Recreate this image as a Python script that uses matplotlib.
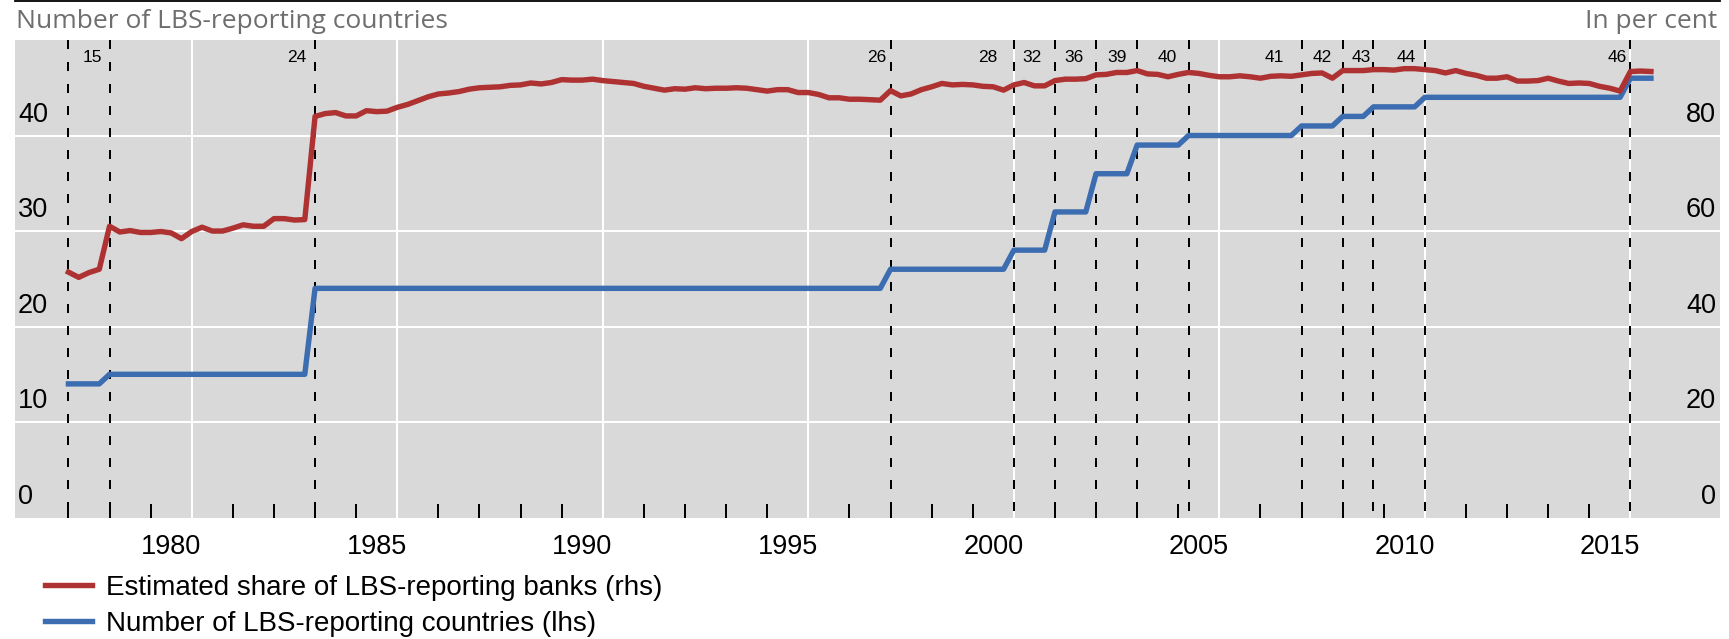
import numpy as np
import matplotlib
matplotlib.use("Agg")
import matplotlib.pyplot as plt
from matplotlib.lines import Line2D
from matplotlib.transforms import blended_transform_factory, offset_copy

# ---------------- data ----------------
# Red series: estimated share of LBS-reporting banks (per cent, rhs), quarterly from end-1977
red_start = 1978.0
red_share = [
    51.4, 50.3, 51.3, 52.0,  61.0, 59.8, 60.1, 59.7,  59.7, 59.9, 59.6, 58.4,
    59.9, 60.8, 60.0, 60.0,  60.6, 61.3, 61.0, 61.0,  62.6, 62.6, 62.3, 62.4,
    84.0, 84.6, 84.8, 84.1,  84.1, 85.2, 85.0, 85.1,  85.9, 86.5, 87.3, 88.1,
    88.7, 88.9, 89.2, 89.7,  90.0, 90.1, 90.2, 90.5,  90.6, 91.0, 90.8, 91.1,
    91.7, 91.6, 91.6, 91.8,  91.5, 91.3, 91.1, 90.9,  90.3, 89.9, 89.5, 89.8,
    89.7, 90.0, 89.8, 89.9,  89.9, 90.0, 89.9, 89.6,  89.3, 89.6, 89.6, 89.0,
    89.0, 88.6, 87.9, 87.9,  87.6, 87.6, 87.5, 87.4,  89.4, 88.3, 88.7, 89.6,
    90.2, 90.9, 90.6, 90.7,  90.6, 90.3, 90.2, 89.5,  90.6, 91.1, 90.4, 90.4,
    91.5, 91.8, 91.8, 91.9,  92.7, 92.8, 93.2, 93.2,  93.6, 92.9, 92.8, 92.3,
    92.8, 93.2, 93.0, 92.6,  92.3, 92.3, 92.5, 92.3,  92.0, 92.4, 92.5, 92.4,
    92.7, 93.0, 93.1, 92.0,  93.6, 93.6, 93.6, 93.8,  93.8, 93.7, 94.0, 94.0,
    93.8, 93.6, 93.1, 93.6,  93.0, 92.6, 92.0, 92.0,  92.3, 91.4, 91.4, 91.5,
    92.0, 91.4, 90.9, 91.0,  90.9, 90.3, 89.9, 89.3,  93.4, 93.5, 93.4,
]
red_dates = red_start + 0.25 * np.arange(len(red_share))

# Blue series: number of LBS-reporting countries (lhs), step changes
blue_start_date, blue_start_count, blue_end_date = 1978.0, 14, 2016.5
join_dates = [1979.0, 1984.0, 1998.0, 2001.0, 2002.0, 2003.0, 2004.0, 2005.25,
              2008.0, 2009.0, 2009.75, 2011.0, 2016.0]
join_counts = [15, 24, 26, 28, 32, 36, 39, 40, 41, 42, 43, 44, 46]

x_labels = [1980, 1985, 1990, 1995, 2000, 2005, 2010, 2015]
lhs_ticks = [0, 10, 20, 30, 40]
rhs_ticks = [0, 20, 40, 60, 80]

# ---------------- styles ----------------
RED = "#AE3232"
BLUE = "#3D6DB1"
LINE_W = 3.9
GRID_W = 1.44
TICK_FONT = "Liberation Sans"
TICK_SIZE = 19.5
label_dx = [7, 9, 4, 16, 13, 12, 10, 12, 18, 11, 3, 9, 4]  # px left of each dashed line

# blue step path
bx, by = [blue_start_date], [blue_start_count]
prev = blue_start_count
for d, c in zip(join_dates, join_counts):
    bx += [d - 0.25, d]
    by += [prev, c]
    prev = c
bx.append(blue_end_date)
by.append(prev)

W, H, DPI = 1729, 639, 100
fig = plt.figure(figsize=(W / DPI, H / DPI), dpi=DPI)
L, R, T, B = 15, 1720, 40, 517.6
ax = fig.add_axes([L / W, 1 - B / H, (R - L) / W, (B - T) / H])
ax.set_facecolor("#D9D9D9")
ax.set_xlim(1976.70, 2018.18)
ax.set_ylim(0, 50)
for s in ax.spines.values():
    s.set_visible(False)

# gridlines
for v in lhs_ticks[1:]:
    ax.axhline(v, color="white", lw=GRID_W, zorder=0.5)
grid_years = [y + 1 for y in x_labels]
for g in grid_years:
    ax.axvline(g, color="white", lw=GRID_W, zorder=0.5)

# dashed lines (start + each join)
for d in [blue_start_date] + join_dates:
    ax.axvline(d, ymin=1, ymax=0, color="black", lw=1.44, dashes=(4.5, 6.5), zorder=1)

# labels next to dashed lines
tr = blended_transform_factory(ax.transData, ax.transAxes)
for d, c, dx in zip(join_dates, join_counts, label_dx):
    ax.text(d, 0.9644, str(c), transform=offset_copy(tr, fig=fig, x=-dx, y=0, units="dots"),
            ha="right", va="center", fontsize=12.5, family=TICK_FONT, color="black")

# blue line
ax.plot(bx, by, color=BLUE, lw=LINE_W, solid_joinstyle="round", zorder=2,
        label="Number of LBS-reporting countries (lhs)")

# x ticks
ax.set_xticks([y + 0.5 for y in x_labels], [str(y) for y in x_labels])
ax.tick_params(axis="x", which="major", length=0, pad=12, labelsize=TICK_SIZE)
for lab in ax.get_xticklabels():
    lab.set_family(TICK_FONT)
minor_years = [y for y in range(1978, 2017) if y not in grid_years]
ax.set_xticks(minor_years, minor=True)
ax.tick_params(axis="x", which="minor", direction="in", length=10, width=1.44, color="black")
sec = ax.secondary_xaxis("bottom")
sec.set_xticks(grid_years)
sec.tick_params(direction="in", length=21, width=1.44, color="black", labelbottom=False)
for s in sec.spines.values():
    s.set_visible(False)
ax.set_yticks([])

# left labels
trl = blended_transform_factory(ax.transAxes, ax.transData)
for v in lhs_ticks:
    ax.text(0, v, str(v), transform=offset_copy(trl, fig=fig, x=3, y=8, units="dots"),
            ha="left", va="bottom", fontsize=TICK_SIZE, family=TICK_FONT)

# red line on rhs
ax2 = ax.twinx()
ax2.set_ylim(0, 100)
ax2.set_yticks([])
for s in ax2.spines.values():
    s.set_visible(False)
ax2.plot(red_dates, red_share, color=RED, lw=LINE_W, solid_joinstyle="round", zorder=3,
         label="Estimated share of LBS-reporting banks (rhs)")
trr = blended_transform_factory(ax2.transAxes, ax2.transData)
for v in rhs_ticks:
    ax2.text(1, v, str(v), transform=offset_copy(trr, fig=fig, x=-4, y=8, units="dots"),
             ha="right", va="bottom", fontsize=TICK_SIZE, family=TICK_FONT)

# titles
fig.text(16 / W, 1 - 21 / H, "Number of LBS-reporting countries", color="#6E6E6E",
         fontsize=19, va="center", ha="left", family="Open Sans")
fig.text(1717 / W, 1 - 21 / H, "In per cent", color="#6E6E6E",
         fontsize=19, va="center", ha="right", family="Open Sans")
fig.add_artist(Line2D([L / W, R / W], [1 - 0.9 / H, 1 - 0.9 / H], color="black", lw=1.3))

# legend
h_red = Line2D([], [], color=RED, lw=LINE_W)
h_blue = Line2D([], [], color=BLUE, lw=LINE_W)
fig.legend([h_red, h_blue],
           ["Estimated share of LBS-reporting banks (rhs)", "Number of LBS-reporting countries (lhs)"],
           loc="center left", bbox_to_anchor=(45 / W, 1 - 606 / H), frameon=False,
           borderpad=0, borderaxespad=0, handlelength=1.7, handletextpad=0.5,
           labelspacing=0.36, prop={"family": TICK_FONT, "size": 20})

fig.savefig("out.png", dpi=DPI)
